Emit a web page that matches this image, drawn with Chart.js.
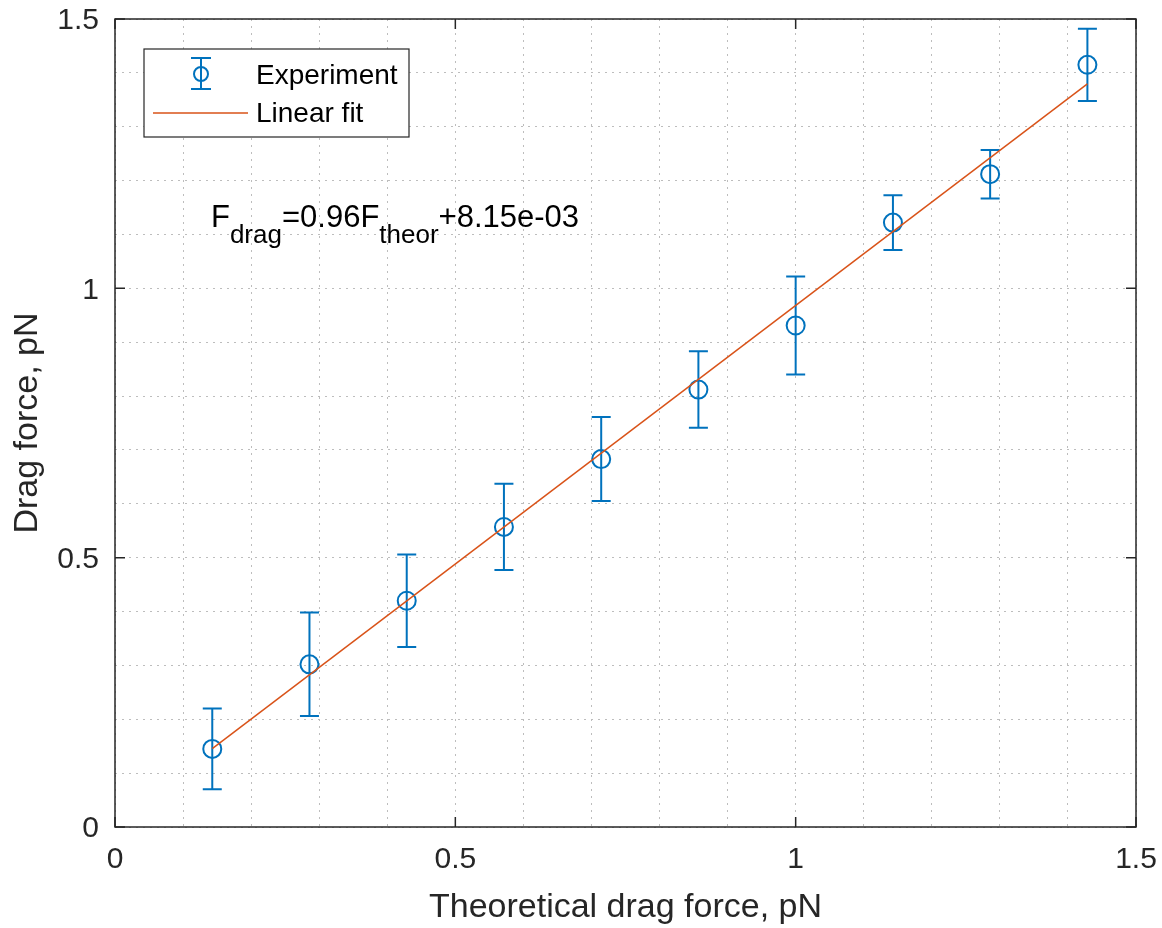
<!DOCTYPE html>
<html>
<head>
<meta charset="utf-8">
<title>Drag force</title>
<script src="https://cdn.jsdelivr.net/npm/chart.js@4/dist/chart.umd.min.js"></script>
<style>
    html, body { margin: 0; padding: 0; background: #ffffff; }
    #contenedor { width: 1162px; height: 928px; }
</style>
</head>
<body>
<div id="contenedor"><canvas id="myChart" width="1162" height="928"></canvas></div>
<script>
// Datos del experimento
const fuerzaTeorica = [0.1429, 0.2857, 0.4286, 0.5714, 0.7143, 0.8571, 1.0, 1.1429, 1.2857, 1.4286];
const fuerzaMedida = [0.145, 0.302, 0.420, 0.557, 0.683, 0.812, 0.931, 1.122, 1.212, 1.415];
const errorMedida = [0.075, 0.096, 0.086, 0.080, 0.078, 0.071, 0.091, 0.051, 0.045, 0.067];

// Coeficientes del ajuste lineal
const pendiente = 0.96;
const intercepto = 8.15e-03;

// Marcas mayores de los ejes (las demás son rejilla menor)
const ticksMayores = [0, 0.5, 1, 1.5];

const FUENTE = "'Liberation Sans', Arial, Helvetica, sans-serif";
const AZUL = '#0072BD';
const NARANJA = '#D95319';
const EJE = '#262626';

// Posición del texto de la ecuación (en unidades de los ejes)
const posTexto = { x: 0.141, y: 1.114 };

// Formato tipo MATLAB: 8.15e-03
function exponencial(v) {
    const partes = v.toExponential(2).split('e');
    const signo = partes[1][0];
    const exp = partes[1].slice(1).padStart(2, '0');
    return partes[0] + 'e' + signo + exp;
}

function esMayor(v) {
    return ticksMayores.some(t => Math.abs(t - v) < 1e-6);
}

function etiqueta(v) {
    return esMayor(v) ? String(Math.round(v * 10) / 10) : '';
}

// Barras de error debajo de los marcadores
const barrasError = {
    id: 'barrasError',
    beforeDatasetsDraw(chart) {
        const { ctx, scales: { x, y } } = chart;
        ctx.save();
        ctx.strokeStyle = AZUL;
        ctx.lineWidth = 2;
        fuerzaTeorica.forEach((fx, i) => {
            const px = x.getPixelForValue(fx);
            const arriba = y.getPixelForValue(fuerzaMedida[i] + errorMedida[i]);
            const abajo = y.getPixelForValue(fuerzaMedida[i] - errorMedida[i]);
            ctx.beginPath();
            ctx.moveTo(px, arriba);
            ctx.lineTo(px, abajo);
            ctx.moveTo(px - 9.5, arriba);
            ctx.lineTo(px + 9.5, arriba);
            ctx.moveTo(px - 9.5, abajo);
            ctx.lineTo(px + 9.5, abajo);
            ctx.stroke();
        });
        ctx.restore();
    }
};

// Caja de los ejes, marcas hacia dentro, leyenda y ecuación
const decoracion = {
    id: 'decoracion',
    afterDraw(chart) {
        const { ctx, chartArea: a, scales: { x, y } } = chart;
        ctx.save();

        // caja
        ctx.strokeStyle = EJE;
        ctx.lineWidth = 1.5;
        ctx.strokeRect(a.left, a.top, a.right - a.left, a.bottom - a.top);

        // marcas mayores hacia dentro
        ctx.lineWidth = 1.5;
        ctx.beginPath();
        ticksMayores.forEach(t => {
            const px = x.getPixelForValue(t);
            ctx.moveTo(px, a.bottom); ctx.lineTo(px, a.bottom - 10);
            ctx.moveTo(px, a.top); ctx.lineTo(px, a.top + 10);
            const py = y.getPixelForValue(t);
            ctx.moveTo(a.left, py); ctx.lineTo(a.left + 10, py);
            ctx.moveTo(a.right, py); ctx.lineTo(a.right - 10, py);
        });
        ctx.stroke();

        // leyenda
        const lx = 144, ly = 49, lw = 265, lh = 88;
        ctx.fillStyle = '#ffffff';
        ctx.fillRect(lx, ly, lw, lh);
        ctx.strokeStyle = EJE;
        ctx.lineWidth = 1.2;
        ctx.strokeRect(lx, ly, lw, lh);

        // icono del experimento
        const ix = 201, iy = 74;
        ctx.strokeStyle = AZUL;
        ctx.lineWidth = 2;
        ctx.beginPath();
        ctx.moveTo(ix, 58); ctx.lineTo(ix, 89);
        ctx.moveTo(ix - 10, 58); ctx.lineTo(ix + 10, 58);
        ctx.moveTo(ix - 10, 89); ctx.lineTo(ix + 10, 89);
        ctx.stroke();
        ctx.beginPath();
        ctx.arc(ix, iy, 7, 0, Math.PI * 2);
        ctx.stroke();

        // icono del ajuste
        ctx.strokeStyle = NARANJA;
        ctx.lineWidth = 1.5;
        ctx.beginPath();
        ctx.moveTo(153, 113); ctx.lineTo(248, 113);
        ctx.stroke();

        ctx.fillStyle = '#000000';
        ctx.font = '28px ' + FUENTE;
        ctx.textBaseline = 'middle';
        ctx.textAlign = 'left';
        ctx.fillText(chart.data.datasets[0].label, 256, 76);
        ctx.fillText(chart.data.datasets[1].label, 256, 114);

        // ecuación del ajuste con subíndices
        const partes = [
            ['F', false], ['drag', true],
            ['=' + pendiente.toFixed(2) + 'F', false], ['theor', true],
            ['+' + exponencial(intercepto), false]
        ];
        let tx = x.getPixelForValue(posTexto.x);
        const ty = y.getPixelForValue(posTexto.y);
        ctx.textBaseline = 'alphabetic';
        partes.forEach(([txt, sub]) => {
            ctx.font = (sub ? '26px ' : '31px ') + FUENTE;
            ctx.fillText(txt, tx, sub ? ty + 16 : ty);
            tx += ctx.measureText(txt).width;
        });

        ctx.restore();
    }
};

function ajustarEje(ancho, alto) {
    return function(scale) {
        if (ancho) scale.width = ancho;
        if (alto) scale.height = alto;
        scale.paddingTop = 0;
        scale.paddingBottom = 0;
        scale.paddingLeft = 0;
        scale.paddingRight = 0;
    };
}

document.addEventListener('DOMContentLoaded', function() {
    const ctx = document.getElementById('myChart').getContext('2d');

    const puntos = fuerzaTeorica.map((fx, i) => ({ x: fx, y: fuerzaMedida[i] }));
    const xIni = fuerzaTeorica[0];
    const xFin = fuerzaTeorica[fuerzaTeorica.length - 1];
    const recta = [
        { x: xIni, y: pendiente * xIni + intercepto },
        { x: xFin, y: pendiente * xFin + intercepto }
    ];

    const myChart = new Chart(ctx, {
        type: 'scatter',
        data: {
            datasets: [{
                label: 'Experiment',
                data: puntos,
                borderColor: AZUL,
                backgroundColor: 'rgba(0,0,0,0)',
                pointRadius: 9,
                pointBorderWidth: 2,
                pointHoverRadius: 9,
                order: 2
            }, {
                label: 'Linear fit',
                type: 'line',
                data: recta,
                borderColor: NARANJA,
                borderWidth: 1.5,
                pointRadius: 0,
                fill: false,
                order: 1
            }]
        },
        options: {
            responsive: false,
            animation: false,
            layout: { padding: { top: 19, right: 26, left: 0, bottom: 0 } },
            plugins: {
                legend: { display: false },
                tooltip: { enabled: false }
            },
            scales: {
                x: {
                    type: 'linear',
                    min: 0,
                    max: 1.5,
                    afterFit: ajustarEje(null, 101),
                    border: { display: false, dash: [2, 5] },
                    grid: { color: '#bdbdbd', lineWidth: 1, drawTicks: false },
                    ticks: {
                        stepSize: 0.1,
                        autoSkip: false,
                        maxRotation: 0,
                        padding: 15,
                        color: EJE,
                        font: { family: FUENTE, size: 30 },
                        callback: etiqueta
                    },
                    title: {
                        display: true,
                        text: 'Theoretical drag force, pN',
                        color: EJE,
                        font: { family: FUENTE, size: 34 },
                        padding: 0
                    }
                },
                y: {
                    type: 'linear',
                    min: 0,
                    max: 1.5,
                    afterFit: ajustarEje(115, null),
                    border: { display: false, dash: [2, 5] },
                    grid: { color: '#bdbdbd', lineWidth: 1, drawTicks: false },
                    ticks: {
                        stepSize: 0.1,
                        autoSkip: false,
                        padding: 16,
                        labelOffset: 2,
                        color: EJE,
                        font: { family: FUENTE, size: 30 },
                        callback: etiqueta
                    },
                    title: {
                        display: true,
                        text: 'Drag force, pN',
                        color: EJE,
                        font: { family: FUENTE, size: 34 },
                        padding: 7
                    }
                }
            }
        },
        plugins: [barrasError, decoracion]
    });
});
</script>
</body>
</html>
